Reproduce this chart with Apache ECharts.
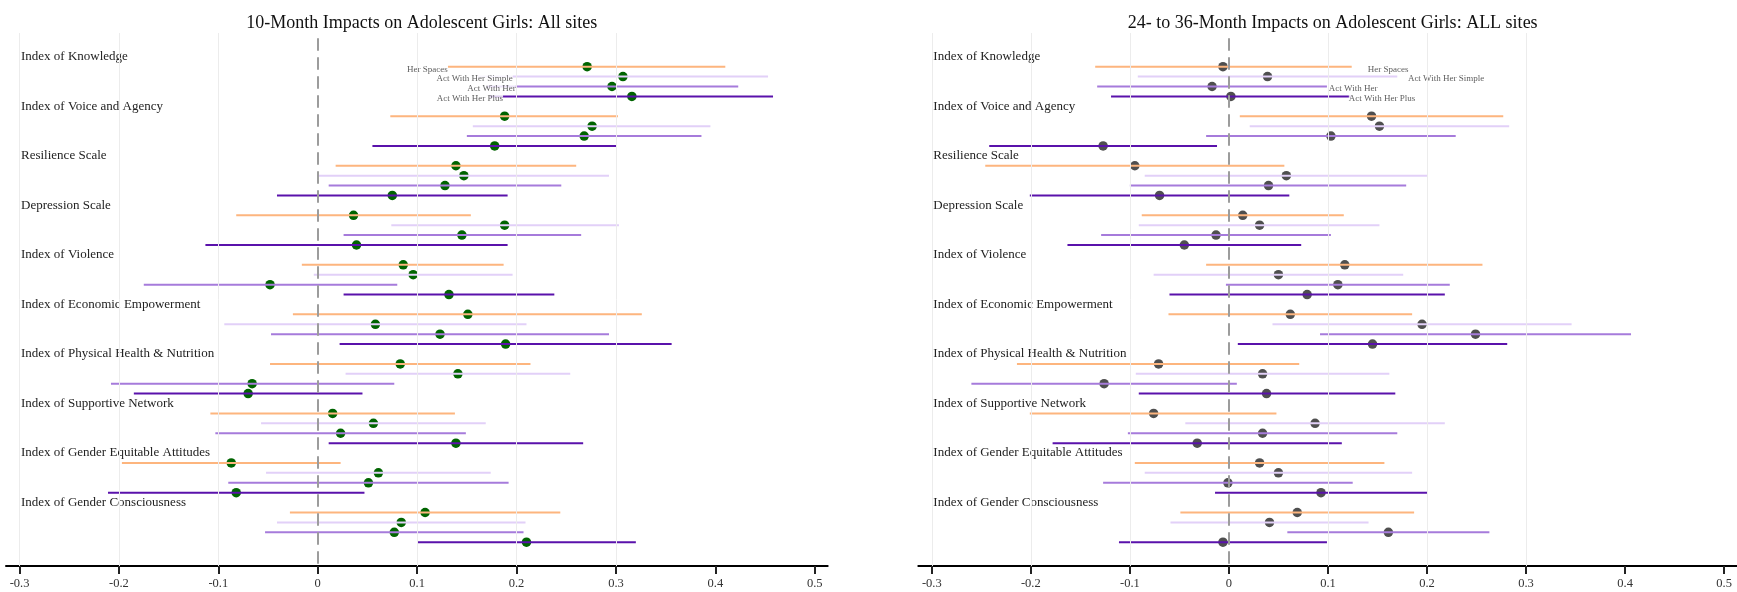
<!DOCTYPE html>
<html>
<head>
<meta charset="utf-8">
<script src="https://cdn.jsdelivr.net/npm/echarts@6/dist/echarts.min.js"></script>
<style>
  html, body { margin: 0; padding: 0; background: #fff; }
  #chart_main { width: 1737px; height: 592px; }
</style>
</head>
<body>
<div id="chart_main"></div>
<script>
// indicators, top to bottom
var categories = [
    'Index of Knowledge', 'Index of Voice and Agency', 'Resilience Scale', 'Depression Scale',
    'Index of Violence', 'Index of Economic Empowerment', 'Index of Physical Health & Nutrition',
    'Index of Supportive Network', 'Index of Gender Equitable Attitudes', 'Index of Gender Consciousness'
];
var seriesNames = ['Her Spaces', 'Act With Her Simple', 'Act With Her', 'Act With Her Plus'];
var tickValues = [-0.3, -0.2, -0.1, 0, 0.1, 0.2, 0.3, 0.4, 0.5];
var gridTicks = [-0.3, -0.2, -0.1, 0.1, 0.2, 0.3];

// 10-month: [estimate, ci low, ci high] per indicator
var m10HerSpaces = [[0.271, 0.131, 0.410], [0.188, 0.073, 0.302], [0.139, 0.018, 0.260], [0.036, -0.082, 0.154], [0.086, -0.016, 0.187],
    [0.151, -0.025, 0.326], [0.083, -0.048, 0.214], [0.015, -0.108, 0.138], [-0.087, -0.197, 0.023], [0.108, -0.028, 0.244]];
var m10Simple = [[0.307, 0.161, 0.453], [0.276, 0.156, 0.395], [0.147, 0.001, 0.293], [0.188, 0.074, 0.303], [0.096, -0.004, 0.196],
    [0.058, -0.094, 0.210], [0.141, 0.028, 0.254], [0.056, -0.057, 0.169], [0.061, -0.052, 0.174], [0.084, -0.041, 0.209]];
var m10ActWithHer = [[0.296, 0.170, 0.423], [0.268, 0.150, 0.386], [0.128, 0.011, 0.245], [0.145, 0.026, 0.265], [-0.048, -0.175, 0.080],
    [0.123, -0.047, 0.293], [-0.066, -0.208, 0.077], [0.023, -0.103, 0.149], [0.051, -0.090, 0.192], [0.077, -0.053, 0.207]];
var m10Plus = [[0.316, 0.173, 0.458], [0.178, 0.055, 0.301], [0.075, -0.041, 0.191], [0.039, -0.113, 0.191], [0.132, 0.026, 0.238],
    [0.189, 0.022, 0.356], [-0.070, -0.185, 0.045], [0.139, 0.011, 0.267], [-0.082, -0.211, 0.047], [0.210, 0.100, 0.320]];

// 24- to 36-month
var m36HerSpaces = [[-0.006, -0.135, 0.124], [0.144, 0.011, 0.277], [-0.095, -0.246, 0.056], [0.014, -0.088, 0.116], [0.117, -0.023, 0.256],
    [0.062, -0.061, 0.185], [-0.071, -0.214, 0.071], [-0.076, -0.201, 0.048], [0.031, -0.095, 0.157], [0.069, -0.049, 0.187]];
var m36Simple = [[0.039, -0.092, 0.170], [0.152, 0.021, 0.283], [0.058, -0.085, 0.201], [0.031, -0.091, 0.152], [0.050, -0.076, 0.176],
    [0.195, 0.044, 0.346], [0.034, -0.094, 0.162], [0.087, -0.044, 0.218], [0.050, -0.085, 0.185], [0.041, -0.059, 0.141]];
var m36ActWithHer = [[-0.017, -0.133, 0.099], [0.103, -0.023, 0.229], [0.040, -0.100, 0.179], [-0.013, -0.129, 0.103], [0.110, -0.003, 0.223],
    [0.249, 0.092, 0.406], [-0.126, -0.260, 0.008], [0.034, -0.102, 0.170], [-0.001, -0.127, 0.125], [0.161, 0.059, 0.263]];
var m36Plus = [[0.002, -0.119, 0.123], [-0.127, -0.242, -0.012], [-0.070, -0.201, 0.061], [-0.045, -0.163, 0.073], [0.079, -0.060, 0.218],
    [0.145, 0.009, 0.281], [0.038, -0.091, 0.168], [-0.032, -0.178, 0.114], [0.093, -0.014, 0.200], [-0.006, -0.111, 0.099]];

// where the series name tags sit (x value) next to the knowledge rows
var tagX10 = [0.1308, 0.1962, 0.1992, 0.1864];
var tagX36 = [0.1403, 0.1807, 0.1009, 0.1211];

var lineColors = ['#fdb57e', '#e2d0f8', '#a67bdb', '#5a12ab'];
var FONT = '"Liberation Serif", "Times New Roman", serif';
var X_MIN = -0.3136, X_MAX = 0.513;
var Y_MIN = -2.4, Y_MAX = 51.4;

var panels = [
    {title: '10-Month Impacts on Adolescent Girls: All sites', rows: [m10HerSpaces, m10Simple, m10ActWithHer, m10Plus],
        dot: '#006400', tagX: tagX10, tagPos: 'left', left: 6, width: 821.7},
    {title: '24- to 36-Month Impacts on Adolescent Girls: ALL sites', rows: [m36HerSpaces, m36Simple, m36ActWithHer, m36Plus],
        dot: '#4f4f4f', tagX: tagX36, tagPos: 'right', left: 918.3, width: 818.7}
];

var titles = [], grids = [], xAxes = [], yAxes = [], series = [];

panels.forEach(function (p, pi) {
    titles.push({
        text: p.title, left: p.left + p.width / 2, top: 9, textAlign: 'center',
        textStyle: {fontFamily: FONT, fontSize: 18, fontWeight: 'normal', color: '#111'}
    });
    grids.push({left: p.left, width: p.width, top: 33, bottom: 26});
    xAxes.push({
        type: 'value', gridIndex: pi, min: X_MIN, max: X_MAX,
        axisLine: {show: true, onZero: false, lineStyle: {color: '#000', width: 2}},
        axisTick: {show: true, customValues: tickValues, length: 8, lineStyle: {color: '#222', width: 2}},
        axisLabel: {customValues: tickValues, margin: 11, fontFamily: FONT, fontSize: 12.5, color: '#333'},
        splitLine: {show: false}
    });
    yAxes.push({
        type: 'value', gridIndex: pi, min: Y_MIN, max: Y_MAX, inverse: true,
        axisLine: {show: false}, axisTick: {show: false}, splitLine: {show: false},
        axisLabel: {
            inside: true, margin: 15, fontFamily: FONT, fontSize: 13, color: '#222',
            customValues: categories.map(function (c, g) { return g * 5; }),
            formatter: function (v) { return categories[Math.round(v / 5)]; }
        }
    });

    // grid lines and dashed zero line
    series.push({
        type: 'scatter', xAxisIndex: pi, yAxisIndex: pi, data: [], z: 1, silent: true,
        markLine: {
            silent: true, symbol: ['none', 'none'], animation: false, label: {show: false},
            data: gridTicks.map(function (v) {
                return {xAxis: v, lineStyle: {color: '#ececec', width: 1, type: 'solid'}};
            }).concat([[
                {coord: [0, -1.87], lineStyle: {color: '#9c9c9c', width: 2, type: [12.5, 6.5]}},
                {coord: [0, Y_MAX]}
            ]])
        }
    });

    p.rows.forEach(function (rows, k) {
        // estimate dots (under the CI lines)
        series.push({
            type: 'scatter', name: seriesNames[k], xAxisIndex: pi, yAxisIndex: pi, z: 2,
            symbolSize: 9.5, itemStyle: {color: p.dot, opacity: 1},
            data: rows.map(function (r, g) { return [r[0], g * 5 + 1 + k]; })
        });
        // confidence intervals
        series.push({
            type: 'custom', name: seriesNames[k], xAxisIndex: pi, yAxisIndex: pi, z: 3,
            encode: {x: [0, 1], y: 2},
            data: rows.map(function (r, g) { return [r[1], r[2], g * 5 + 1 + k]; }),
            renderItem: function (params, api) {
                var a = api.coord([api.value(0), api.value(2)]);
                var b = api.coord([api.value(1), api.value(2)]);
                return {
                    type: 'line',
                    shape: {x1: a[0], y1: a[1], x2: b[0], y2: b[1]},
                    style: {stroke: lineColors[k], lineWidth: 2}
                };
            }
        });
        // series name tag beside the first indicator
        series.push({
            type: 'scatter', xAxisIndex: pi, yAxisIndex: pi, z: 4, symbolSize: 0, silent: true,
            data: [[p.tagX[k], 1 + k]],
            label: {
                show: true, position: p.tagPos, distance: 0, offset: [0, 2.5],
                formatter: seriesNames[k], fontFamily: FONT, fontSize: 9, color: '#333',
                backgroundColor: '#fff', padding: [0, 0]
            }
        });
    });
});

var myChart = echarts.init(document.getElementById('chart_main'));
myChart.setOption({
    animation: false,
    backgroundColor: '#fff',
    title: titles,
    grid: grids,
    xAxis: xAxes,
    yAxis: yAxes,
    series: series
});
</script>
</body>
</html>
